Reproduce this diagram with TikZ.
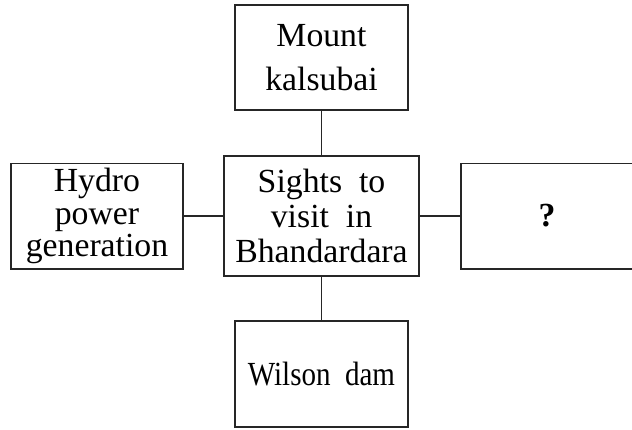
\documentclass[tikz,border=0pt]{standalone}
\usepackage{fontspec}
\setmainfont{Liberation Serif}

\begin{document}
\begin{tikzpicture}[x=0.025cm, y=-0.025cm,
  box/.style={rectangle, draw=black!85, line width=1.4pt, align=center, inner sep=0pt,
    font=\fontsize{24}{23}\selectfont},
  link/.style={draw=black!85, line width=1.4pt}]

\useasboundingbox (0, 0) rectangle (632, 429);

\node[box, minimum width=4.325cm, minimum height=2.625cm, font=\fontsize{24}{31}\selectfont] (mount) at (321.5, 57.5) {Mount\\kalsubai};
\node[box, minimum width=4.875cm, minimum height=3cm, font=\fontsize{24}{25}\selectfont] (sights) at (321.5, 216) {Sights\ \ to\\visit\ \ in\\Bhandardara};
\node[box, minimum width=4.3cm, minimum height=2.625cm] (hydro) at (97, 216) {Hydro\\power\\generation};
\node[box, minimum width=4.3cm, minimum height=2.625cm, font=\fontsize{24}{23}\bfseries] (quest) at (547, 216) {?};
\node[box, minimum width=4.3cm, minimum height=2.65cm] (wilson) at (321.5, 374) {\scalebox{0.86}[1]{Wilson\ \ dam}};

\draw[link] (mount) -- (sights);
\draw[link] (hydro) -- (sights);
\draw[link] (sights) -- (quest);
\draw[link] (sights) -- (wilson);

\end{tikzpicture}
\end{document}
